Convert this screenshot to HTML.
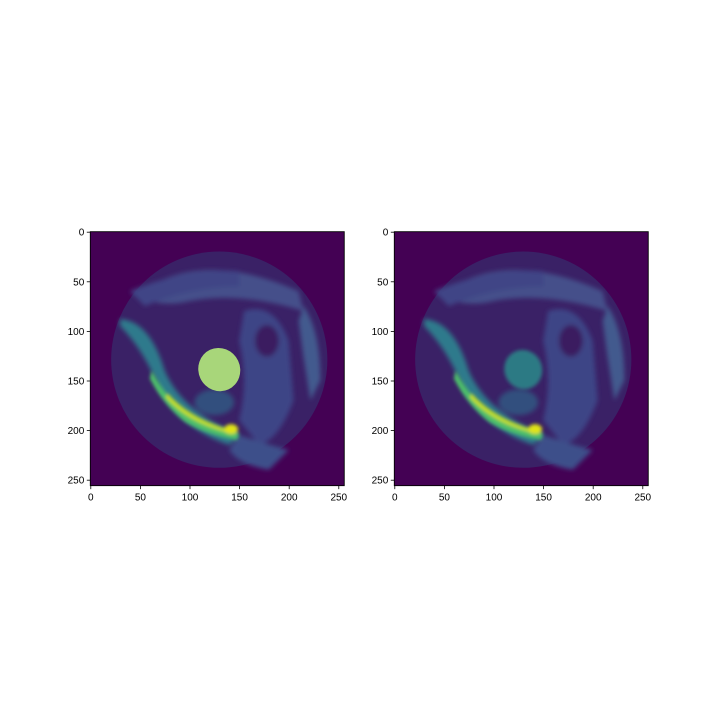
<!DOCTYPE html>
<html><head><meta charset="utf-8"><style>
body{margin:0;background:#fff}
svg{display:block}
text{font-family:"Liberation Sans",sans-serif;font-size:10px;fill:#000}
</style></head><body>
<svg width="720" height="720">
<defs>
<clipPath id="cl"><rect x="0" y="0" width="256" height="256"/></clipPath>
<filter id="bl" x="-20%" y="-20%" width="140%" height="140%"><feGaussianBlur stdDeviation="2.5"/></filter>
<filter id="bl2" x="-20%" y="-20%" width="140%" height="140%"><feGaussianBlur stdDeviation="1.8"/></filter>
<g id="scan" clip-path="url(#cl)">
<rect x="0" y="0" width="256" height="256" fill="#440154"/>
<circle cx="130" cy="129" r="109" fill="#3a2166"/>
<g filter="url(#bl)">
<path d="M60,55 Q120,20 210,60 L215,80 Q150,60 100,70 Q80,75 60,70 Z" fill="#45508a"/>
<path d="M40,60 Q100,35 150,40 L150,55 Q100,55 55,75 Z" fill="#3f4486"/>
<path d="M155,80 Q185,70 200,110 L205,170 Q190,210 170,215 L150,190 Q160,150 150,110 Z" fill="#3d4486"/>
<ellipse cx="178" cy="110" rx="12" ry="16" fill="#3a1a60"/>
<path d="M215,75 Q232,100 232,150 L222,170 Q215,130 210,90 Z" fill="#435a8e"/>
<path d="M30,88 Q60,90 75,140 Q90,175 130,195 L150,205 L140,215 Q95,200 70,160 Q55,120 30,95 Z" fill="#2f7a8c"/>
<path d="M150,205 Q180,215 200,220 L180,240 Q150,235 140,220 Z" fill="#3e4f8a"/>
<ellipse cx="125" cy="172" rx="20" ry="13" fill="#33507e"/>
</g>
<g filter="url(#bl2)">
<path d="M62,140 Q80,175 112,192 Q132,200 150,203 L148,210 Q118,205 96,192 Q74,175 60,148 Z" fill="#4dbf6a"/>
<path d="M78,163 Q98,186 135,198 L137,202 Q98,192 76,167 Z" fill="#c8e020"/>
<ellipse cx="142" cy="199" rx="7" ry="5" fill="#e0e318"/>
</g>
</g>
</defs>

<g transform="translate(90.3,231.7) scale(0.992)">
<use href="#scan"/>
<ellipse cx="130" cy="139" rx="21" ry="22" transform="rotate(-25 130 139)" fill="#a8d67a"/>
<rect x="0" y="0" width="256" height="256" fill="none" stroke="#000" stroke-width="0.9"/>
</g>
<g transform="translate(394.3,231.7) scale(0.992)">
<use href="#scan"/>
<ellipse cx="130" cy="139" rx="19" ry="20" transform="rotate(-25 130 139)" fill="#2a8a8a" filter="url(#bl2)" opacity="0.85"/>
<rect x="0" y="0" width="256" height="256" fill="none" stroke="#000" stroke-width="0.9"/>
</g>
<g id="axes"></g>
</svg>
<script>
const yTicks=[0,50,100,150,200,250];
const xTicks=[0,50,100,150,200,250];
const panels=[90.3,394.3];
const top0=231.7, sc=0.992;
const g=document.getElementById('axes');
const NS='http://www.w3.org/2000/svg';
function mk(t,a){const e=document.createElementNS(NS,t);for(const k in a)e.setAttribute(k,a[k]);g.appendChild(e);return e;}
panels.forEach(px=>{
  yTicks.forEach(v=>{
    const y=top0+(v+0.5)*sc;
    const l=mk('line',{x1:px-3.5,x2:px,y1:y,y2:y,stroke:'#000','stroke-width':0.8});
    
    
    const t=mk('text',{x:px-6,y:y+3.5,'text-anchor':'end'});
    
    
    t.textContent=v;
  });
  xTicks.forEach(v=>{
    const x=px+(v+0.5)*sc, yb=top0+256*sc;
    const l=mk('line',{x1:x,x2:x,y1:yb,y2:yb+3.5,stroke:'#000','stroke-width':0.8});
    
    
    const t=mk('text',{x:x,y:yb+15,'text-anchor':'middle'});
    
    
    t.textContent=v;
  });
});
</script>
</body></html>
